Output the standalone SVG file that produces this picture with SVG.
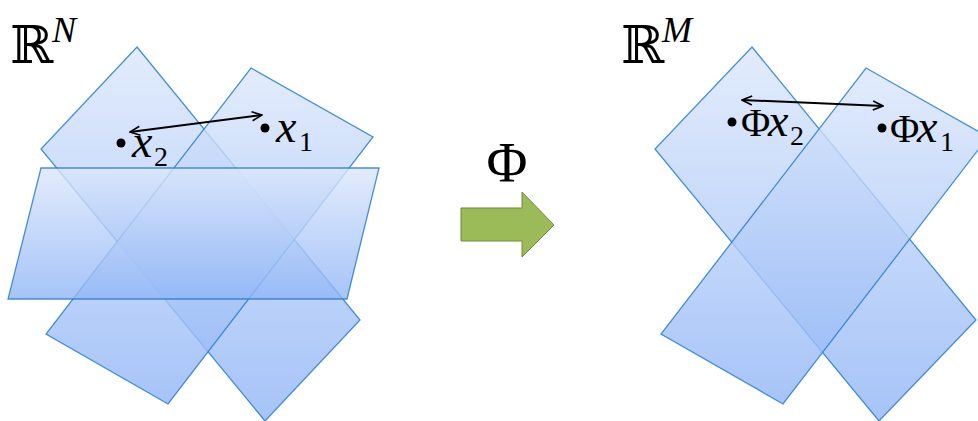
<svg xmlns="http://www.w3.org/2000/svg" width="978" height="421" viewBox="0 0 978 421">
<defs>
<linearGradient id="gp" x1="0" y1="0" x2="0" y2="1">
<stop offset="0" stop-color="rgb(219,231,251)" stop-opacity="0.8"/>
<stop offset="1" stop-color="rgb(144,181,246)" stop-opacity="0.8"/>
</linearGradient>
<marker id="ah" viewBox="0 0 12 12" refX="11" refY="6" markerWidth="12" markerHeight="12" markerUnits="userSpaceOnUse" orient="auto-start-reverse">
<path d="M1,1.5 L11,6 L1,10.5" fill="none" stroke="#000" stroke-width="1.6"/>
</marker>
</defs>
<style>
.pl{fill:url(#gp);stroke:#2a7ccc;stroke-opacity:0.85;stroke-width:1.3;stroke-linejoin:miter}
.dbl{stroke:#000;stroke-width:2;fill:none;marker-start:url(#ah);marker-end:url(#ah)}
.bb{font-family:"DejaVu Serif","DejaVu Sans",serif;font-size:52px;fill:#000}
.sup{font-family:"Liberation Serif",serif;font-style:italic;font-size:36px;fill:#000}
.vx{font-family:"Liberation Serif",serif;font-style:italic;font-size:46px;fill:#000}
.sub{font-family:"Liberation Serif",serif;font-size:28px;fill:#000}
.phi{font-family:"Liberation Serif",serif;font-size:40px;fill:#000}
.dot{fill:#000}
</style>
<g id="space-N-label"><text class="bb" x="10" y="63">ℝ</text><text class="sup" x="52" y="42">N</text></g>
<g id="space-M-label"><text class="bb" x="621" y="63">ℝ</text><text class="sup" x="662" y="42">M</text></g>
<g id="plane-A"><polygon class="pl" points="137,47 360,320 265,421 41,149"/></g>
<g id="plane-B"><polygon class="pl" points="251,68 373,137 168,404 46,334"/></g>
<g id="plane-C"><polygon class="pl" points="41,168 379,168 347,299 8,299"/></g>
<g id="plane-D"><polygon class="pl" points="752,47 976,320 879,421 655,149"/></g>
<g id="plane-E"><polygon class="pl" points="866,68 988,137 783,404 661,334"/></g>
<g id="point-x2"><circle class="dot" cx="121" cy="143" r="4.5"/><text class="vx" x="132" y="157">x</text><text class="sub" x="154" y="166">2</text></g>
<g id="point-x1"><circle class="dot" cx="265" cy="128" r="4.5"/><text class="vx" x="276" y="142">x</text><text class="sub" x="299" y="151">1</text></g>
<g id="point-phix2"><circle class="dot" cx="732" cy="122" r="4.5"/><text class="phi" x="741" y="136">Φ</text><text class="vx" x="768" y="136">x</text><text class="sub" x="790" y="145">2</text></g>
<g id="point-phix1"><circle class="dot" cx="882" cy="128" r="4.5"/><text class="phi" x="890" y="142">Φ</text><text class="vx" x="917" y="142">x</text><text class="sub" x="940" y="151">1</text></g>
<g id="map-label"><text x="507" y="182" text-anchor="middle" font-family="Liberation Serif, serif" font-size="56" fill="#000">Φ</text></g>
<g id="connectors">
<line class="dbl" x1="130" y1="132" x2="262" y2="115"/>
<line class="dbl" x1="742" y1="100" x2="883" y2="106"/>
<polygon id="map-arrow" points="461,208 522,208 522,192 554,225 522,257 522,241 461,241" fill="#9bbb59" stroke="#71893f" stroke-width="1"/>
</g>
</svg>
